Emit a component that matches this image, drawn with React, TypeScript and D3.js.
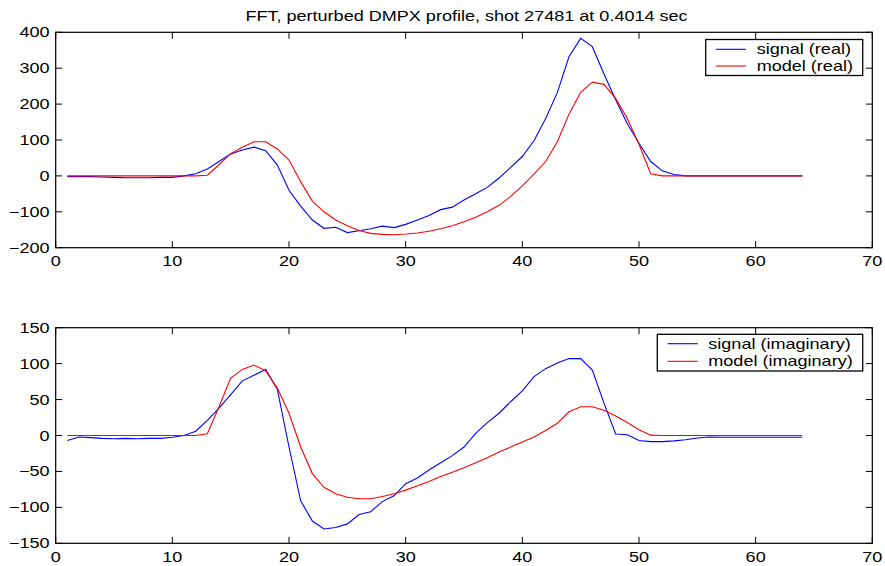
import React from "react";
import * as d3 from "d3";

const xValues: number[] = d3.range(1, 65);

const signalReal: number[] = [
  -2, -2, -2, -3, -4, -5, -5, -5, -4, -4, 0, 6, 19, 40, 61, 72, 80, 70, 30, -40,
  -84, -123, -146, -143, -158, -153, -147, -140, -144, -135, -123, -110, -94, -87, -67, -50, -32, -6, 24, 54,
  98, 160, 232, 332, 383, 360, 284, 212, 145, 91, 40, 14, 4, 0, 0, 0, 0, 0, 0, 0,
  0, 0, 0, 0,
];
const modelReal: number[] = [
  0, 0, 0, 0, 0, 0, 0, 0, 0, 0, 0, 0, 2, 31, 62, 80, 95, 95, 75, 44,
  -16, -70, -100, -123, -139, -152, -160, -163, -164, -162, -159, -154, -147, -139, -128, -115, -100, -82, -57, -28,
  5, 40, 95, 172, 233, 261, 255, 216, 160, 88, 6, 0, 0, 0, 0, 0, 0, 0, 0, 0,
  0, 0, 0, 0,
];
const signalImag: number[] = [
  -7, -2, -3, -4, -4.5, -4, -4.5, -4, -4, -2.5, 0, 6, 21, 38, 57, 76, 84, 92, 64, -16,
  -91, -119, -130, -128, -123, -110, -106, -92, -84, -67, -59, -48, -38, -28, -16, 3, 18, 31, 47, 62,
  82, 93, 101, 107, 107, 91, 45, 2, 1, -7, -8.5, -8.5, -7.5, -6, -3.5, -2, -2.5, -2.5, -2.5, -2.5,
  -2.5, -2.5, -2.5, -2.5,
];
const modelImag: number[] = [
  0, 0, 0, 0, 0, 0, 0, 0, 0, 0, 0, 0, 2.5, 40, 80, 92, 98, 90, 66, 31,
  -16, -53, -72, -81, -86, -88, -88, -85, -81, -76, -70, -64, -57, -51, -45, -38, -31, -23, -16, -9,
  -2, 7, 17, 33, 40, 40, 35, 27, 18, 8, 0.5, 0, 0, 0, 0, 0, 0, 0, 0, 0,
  0, 0, 0, 0,
];

const xTicks: number[] = [0, 10, 20, 30, 40, 50, 60, 70];
const yTicksTop: number[] = [-200, -100, 0, 100, 200, 300, 400];
const yTicksBottom: number[] = [-150, -100, -50, 0, 50, 100, 150];

const titleText = "FFT, perturbed DMPX profile, shot 27481 at 0.4014 sec";
const legendTop = ["signal (real)", "model (real)"];
const legendBottom = ["signal (imaginary)", "model (imaginary)"];

const FONT = "Liberation Sans, Arial, Helvetica, sans-serif";
const FS = 14;
const SX = 1.29;

function fmt(v: number): string {
  return v < 0 ? "\u2212" + Math.abs(v) : String(v);
}

function SText(props: { x: number; y: number; anchor?: string; children: string }) {
  const { x, y, anchor = "start", children } = props;
  return (
    <text
      transform={`translate(${x},${y}) scale(${SX},1)`}
      fontFamily={FONT}
      fontSize={FS}
      textAnchor={anchor}
      fill="#000"
    >
      {children}
    </text>
  );
}

interface PanelProps {
  top: number;
  bottom: number;
  yDomain: [number, number];
  yTicks: number[];
  signal: number[];
  model: number[];
  legend: string[];
  legendBox: { x0: number; x1: number; y0: number; y1: number; lx0: number; lx1: number; tx: number; l1: number; l2: number };
}

const LEFT = 55.7;
const RIGHT = 872.3;
const TICK = 6.5;

function Panel(p: PanelProps) {
  const x = d3.scaleLinear().domain([0, 70]).range([LEFT, RIGHT]);
  const y = d3.scaleLinear().domain(p.yDomain).range([p.bottom, p.top]);
  const line = d3
    .line<number>()
    .x((_, i) => x(xValues[i]))
    .y((d) => y(d));
  const lb = p.legendBox;
  return (
    <g>
      <path d={line(p.signal) || ""} fill="none" stroke="#0000ff" strokeWidth={1.1} />
      <path d={line(p.model) || ""} fill="none" stroke="#ff0000" strokeWidth={1.1} />
      <rect x={LEFT} y={p.top} width={RIGHT - LEFT} height={p.bottom - p.top} fill="none" stroke="#000" strokeWidth={1.2} />
      {xTicks.map((t) => (
        <g key={"x" + t}>
          <line x1={x(t)} x2={x(t)} y1={p.bottom} y2={p.bottom - TICK} stroke="#000" strokeWidth={1} />
          <line x1={x(t)} x2={x(t)} y1={p.top} y2={p.top + TICK} stroke="#000" strokeWidth={1} />
          <SText x={x(t)} y={p.bottom + 18.5} anchor="middle">{fmt(t)}</SText>
        </g>
      ))}
      {p.yTicks.map((t) => (
        <g key={"y" + t}>
          <line x1={LEFT} x2={LEFT + TICK} y1={y(t)} y2={y(t)} stroke="#000" strokeWidth={1} />
          <line x1={RIGHT} x2={RIGHT - TICK} y1={y(t)} y2={y(t)} stroke="#000" strokeWidth={1} />
          <SText x={49.5} y={y(t) + 5} anchor="end">{fmt(t)}</SText>
        </g>
      ))}
      <rect x={lb.x0} y={lb.y0} width={lb.x1 - lb.x0} height={lb.y1 - lb.y0} fill="#fff" stroke="#000" strokeWidth={1.3} />
      <line x1={lb.lx0} x2={lb.lx1} y1={lb.l1} y2={lb.l1} stroke="#0000ff" strokeWidth={1.1} />
      <line x1={lb.lx0} x2={lb.lx1} y1={lb.l2} y2={lb.l2} stroke="#ff0000" strokeWidth={1.1} />
      <SText x={lb.tx} y={lb.l1 + 5}>{p.legend[0]}</SText>
      <SText x={lb.tx} y={lb.l2 + 5}>{p.legend[1]}</SText>
    </g>
  );
}

export default function App() {
  return (
    <svg
      width={885}
      height={566}
      style={{ position: "absolute", left: 0, top: 0, background: "#fff" }}
    >
      <rect x={0} y={0} width={885} height={566} fill="#fff" />
      <SText x={466.5} y={21} anchor="middle">{titleText}</SText>
      <Panel
        top={32.3}
        bottom={247.7}
        yDomain={[-200, 400]}
        yTicks={yTicksTop}
        signal={signalReal}
        model={modelReal}
        legend={legendTop}
        legendBox={{ x0: 705.7, x1: 862.7, y0: 39.5, y1: 75.5, lx0: 716, lx1: 746, tx: 756.7, l1: 49.3, l2: 66 }}
      />
      <Panel
        top={327.7}
        bottom={543.3}
        yDomain={[-150, 150]}
        yTicks={yTicksBottom}
        signal={signalImag}
        model={modelImag}
        legend={legendBottom}
        legendBox={{ x0: 657.3, x1: 862.7, y0: 334.3, y1: 371, lx0: 667.7, lx1: 697.7, tx: 708.3, l1: 343.7, l2: 361.3 }}
      />
    </svg>
  );
}
